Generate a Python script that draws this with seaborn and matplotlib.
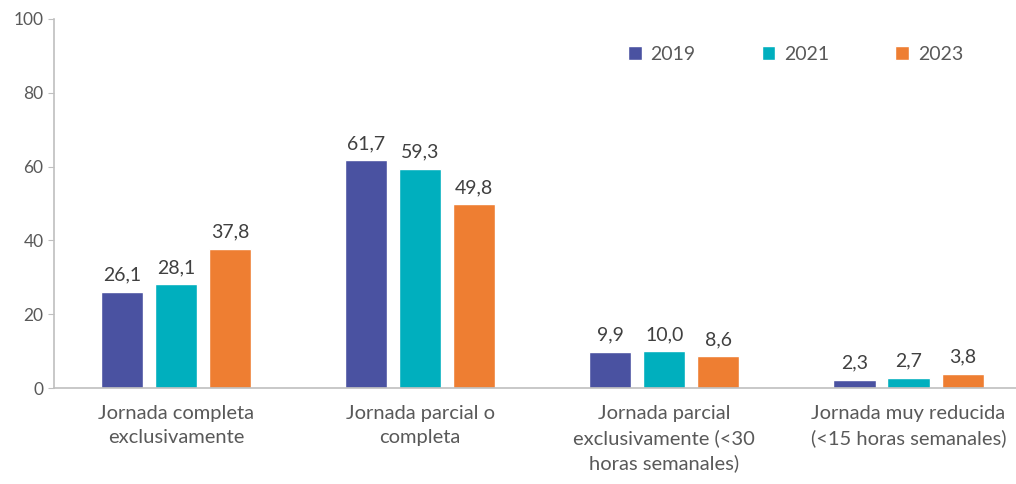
import pandas as pd
import matplotlib
matplotlib.use("Agg")
import matplotlib.pyplot as plt
import seaborn as sns

# categories and series values
categorias = ["Jornada completa\nexclusivamente",
              "Jornada parcial o\ncompleta",
              "Jornada parcial\nexclusivamente (<30\nhoras semanales)",
              "Jornada muy reducida\n(<15 horas semanales)"]
anios = ["2019", "2021", "2023"]
v2019 = [26.1, 61.7, 9.9, 2.3]
v2021 = [28.1, 59.3, 10.0, 2.7]
v2023 = [37.8, 49.8, 8.6, 3.8]
colores = ["#4A52A1", "#00AFBE", "#EE7E32"]

# long format for seaborn
filas = []
for anio, vals in zip(anios, [v2019, v2021, v2023]):
    for cat, v in zip(categorias, vals):
        filas.append({"categoria": cat, "anio": anio, "valor": v})
df = pd.DataFrame(filas)

sns.set_style("white")
plt.rcParams["font.family"] = ["Lato", "DejaVu Sans"]
gris = "#595959"

fig = plt.figure(figsize=(10.16, 4.84), dpi=100)
ax = fig.add_axes([0.053, 0.198, 0.947, 0.763])

sns.barplot(data=df, x="categoria", y="valor", hue="anio", order=categorias,
            hue_order=anios, palette=colores, width=0.664, gap=0.22,
            saturation=1, ax=ax)

for cont in ax.containers:
    ax.bar_label(cont, labels=[f"{b.get_height():.1f}".replace(".", ",") for b in cont],
                 padding=6, fontsize=14, color="#404040")

ax.set_ylim(0, 100)
ax.set_xlim(-0.5, 3.44)
ax.set_yticks(range(0, 101, 20))
ax.set_xlabel("")
ax.set_ylabel("")
ax.tick_params(axis="y", labelsize=12.5, labelcolor=gris, length=4, color="#BFBFBF", left=True)
ax.tick_params(axis="x", labelsize=14.5, labelcolor=gris, length=0, pad=12)
for t in ax.get_xticklabels():
    t.set_linespacing(1.5)

for s in ["top", "right"]:
    ax.spines[s].set_visible(False)
for s in ["left", "bottom"]:
    ax.spines[s].set_color("#BFBFBF")
    ax.spines[s].set_linewidth(1.2)

ax.legend(loc="upper right", bbox_to_anchor=(0.963, 0.975), ncol=3, frameon=False,
          fontsize=14, labelcolor=gris, handlelength=0.7, handleheight=0.7,
          handletextpad=0.45, columnspacing=3.4)

fig.savefig("out.png", dpi=100)
